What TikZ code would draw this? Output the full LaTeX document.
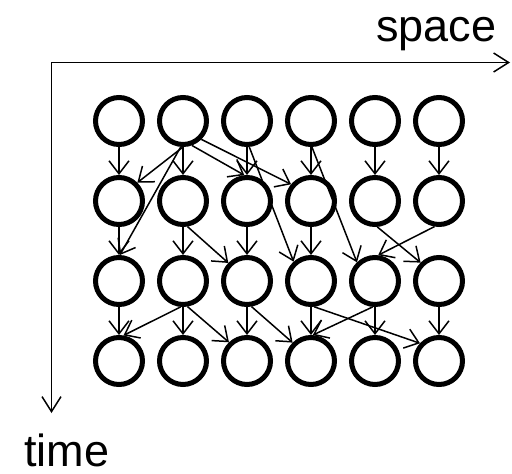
\documentclass[tikz,border=0pt]{standalone}
\usepackage{fontspec}
\setmainfont{Liberation Sans}
\usetikzlibrary{arrows.meta}
\begin{document}
\begin{tikzpicture}[x=1pt,y=-1pt,
  cell/.style={circle,draw=black,line width=5pt,minimum size=47pt,inner sep=0pt},
  edge/.style={line width=1.5pt,-{Straight Barb[length=13pt,width=20pt,line width=1.5pt]}},
  axis/.style={line width=1.5pt,{Straight Barb[length=15pt,width=19pt,line width=1.5pt]}-{Straight Barb[length=15pt,width=19pt,line width=1.5pt]}},
  lbl/.style={font=\fontsize{45}{54}\selectfont,inner sep=0pt,anchor=base west}]
\useasboundingbox (0,0) rectangle (512,474);
% axes
\coordinate (o) at (51.5,62.5);
\coordinate (xend) at (510,62.5);
\coordinate (yend) at (51.5,413);
\draw[axis] (yend) -- (o) -- (xend);
\node[lbl] (space) at (376,41) {space};
\node[lbl] (time) at (24,466) {time};
% nodes
\foreach \r in {1,...,4}{
  \foreach \c in {1,...,6}{
    \node[cell] (n\r\c) at ({119+64*(\c-1)},{121+80*(\r-1)}) {};
  }
}
% vertical edges
\foreach \a/\b in {11/21,12/22,13/23,14/24,15/25,16/26,
                   21/31,22/32,23/33,24/34,
                   31/41,32/42,33/43,34/44,35/45,36/46}{
  \draw[edge] (n\a.south) -- (n\b.north);
}
% diagonal edges
\draw[edge] (n12.south) -- (n21.45);
\draw[edge] (n12.-95) -- (n31.88);
\draw[edge] (n12.-70) -- (n23.96);
\draw[edge] (n12.-45) -- (n24.140);
\draw[edge] (n13.-85) -- (n34.132);
\draw[edge] (n14.-88) -- (n35.134);
\draw[edge] (n22.-80) -- (n33.136);
\draw[edge] (n25.-85) -- (n36.135);
\draw[edge] (n26.-100) -- (n35.83);
\draw[edge] (n32.-95) -- (n41.80);
\draw[edge] (n32.-80) -- (n43.134);
\draw[edge] (n33.-80) -- (n44.135);
\draw[edge] (n34.-83) -- (n46.137);
\draw[edge] (n35.-95) -- (n44.86);
\end{tikzpicture}
\end{document}
